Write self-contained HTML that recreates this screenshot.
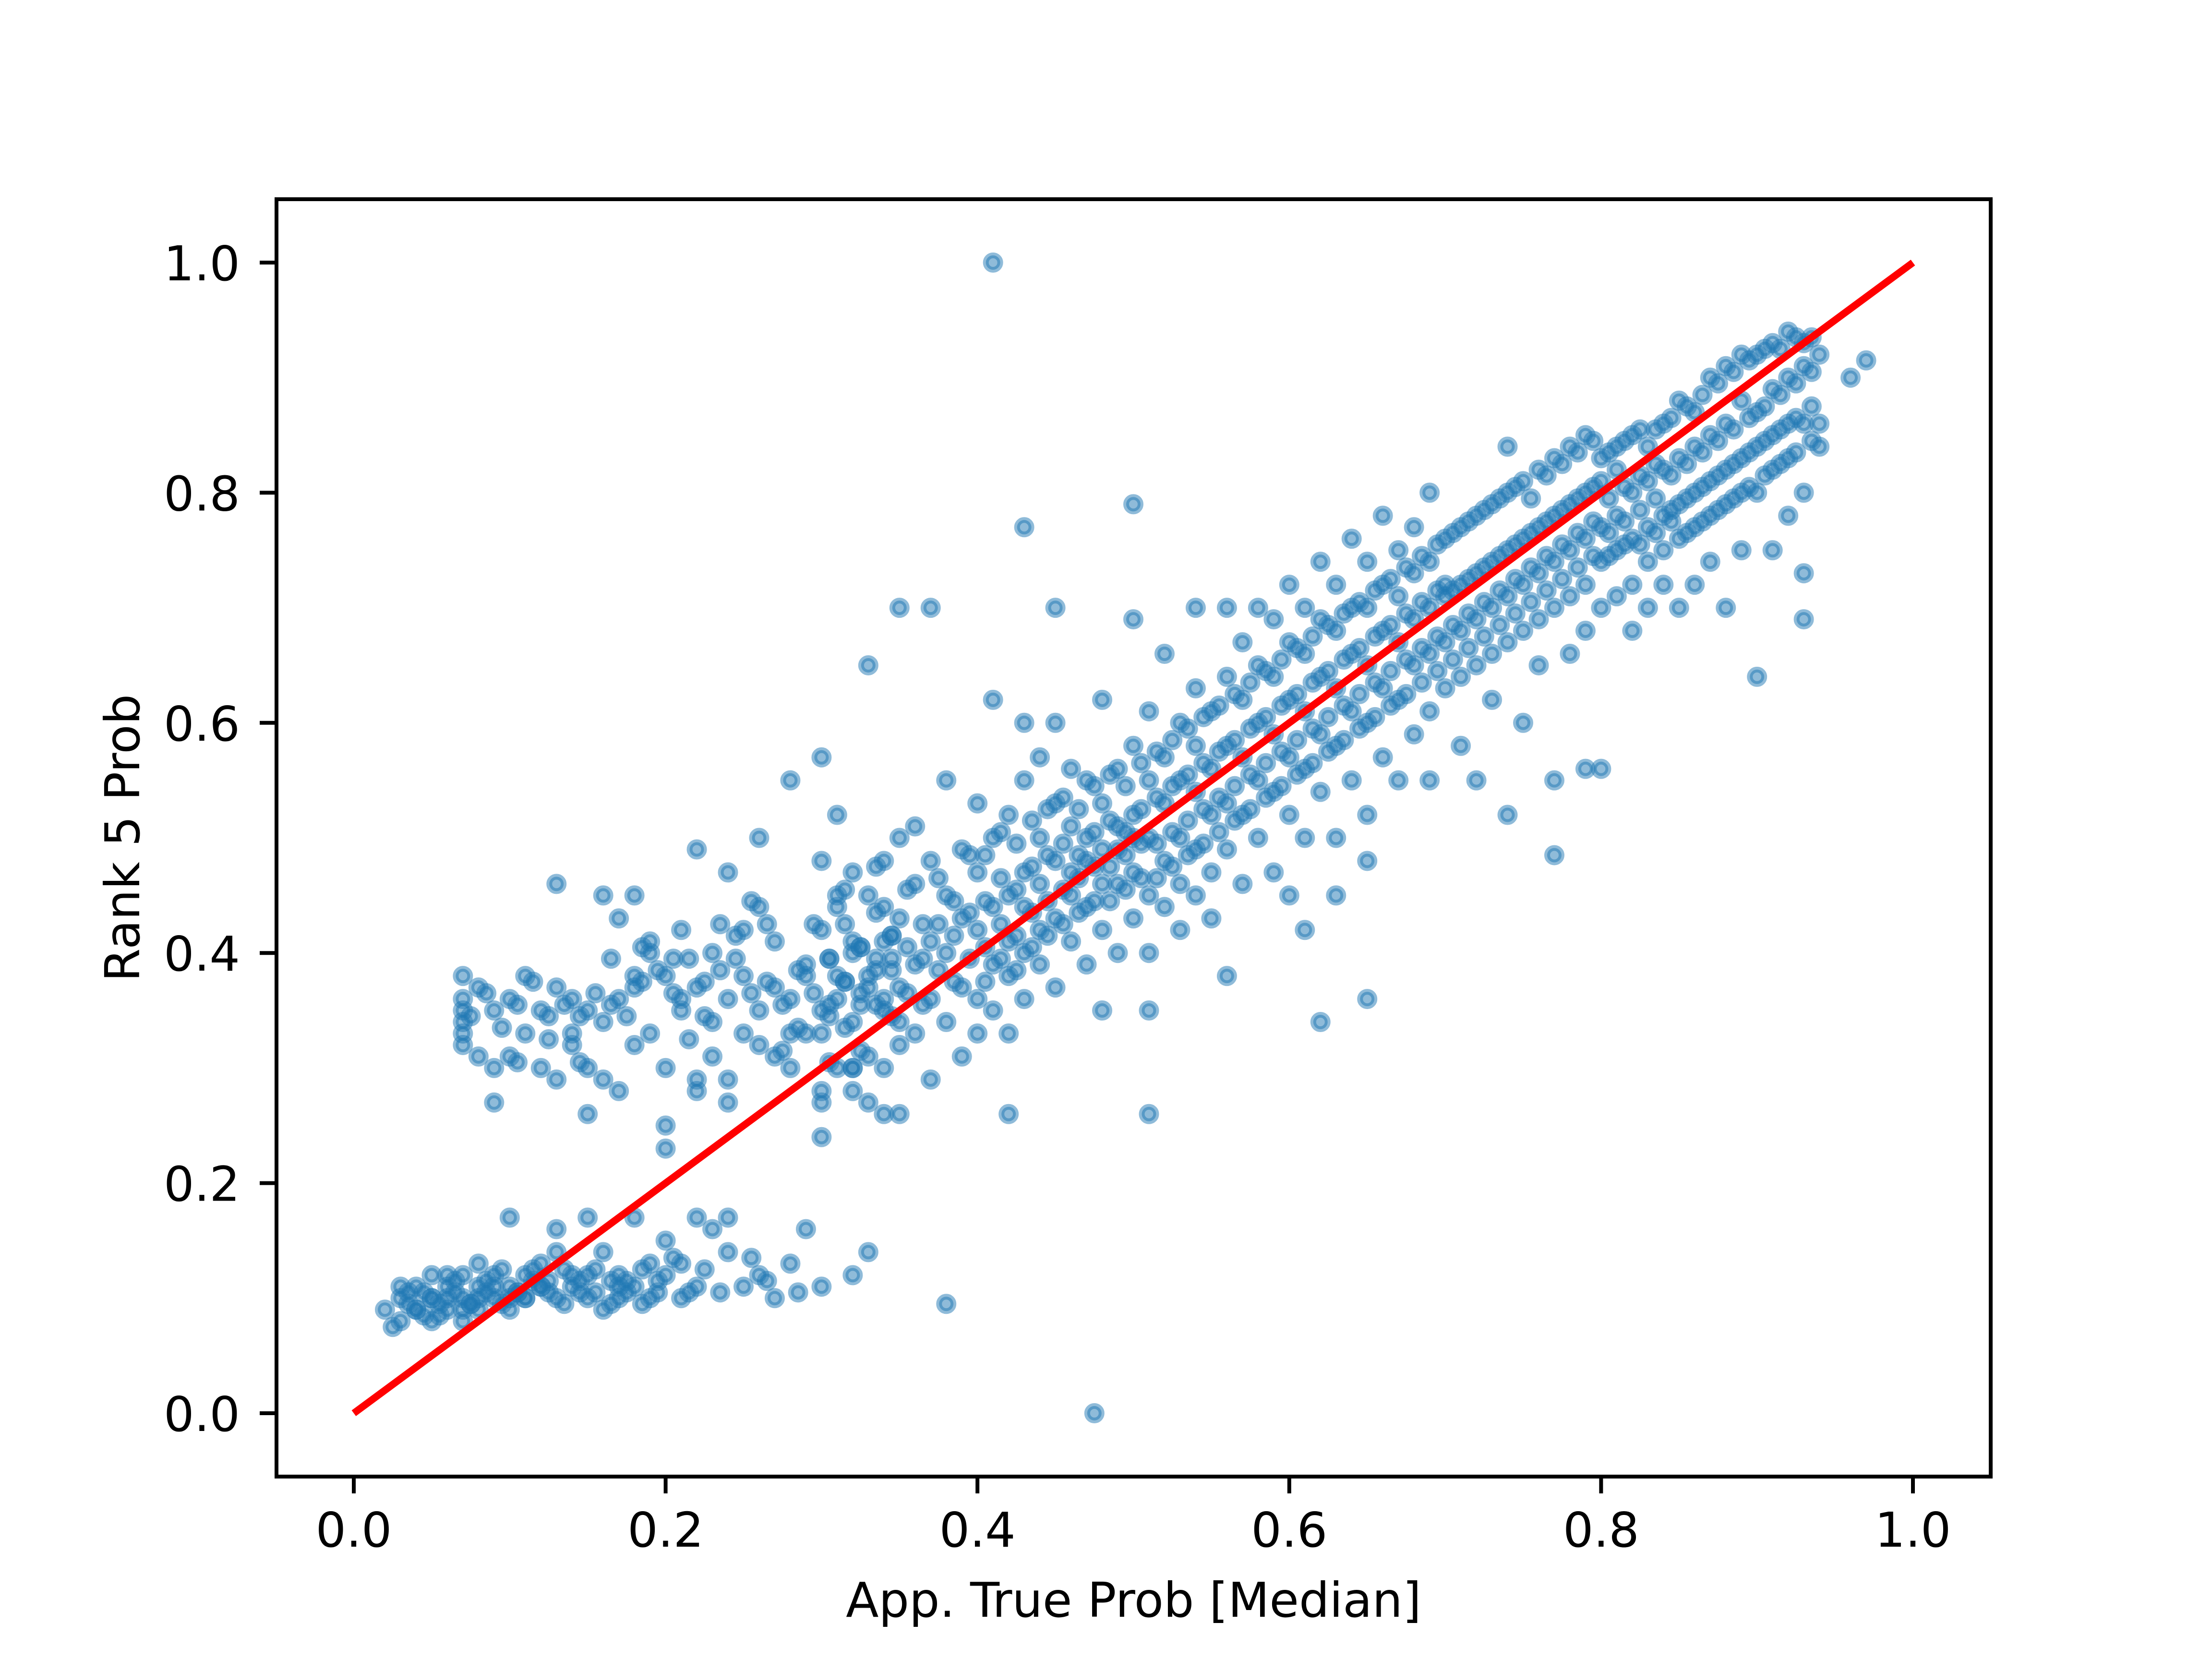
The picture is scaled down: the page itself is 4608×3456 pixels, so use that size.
<!DOCTYPE html>
<html><head><meta charset="utf-8"><style>
html,body{margin:0;padding:0;background:#fff;}
svg{display:block;font-family:"DejaVu Sans","Liberation Sans",sans-serif;}
</style></head><body>
<svg id="chart" width="4608" height="3456" viewBox="0 0 4608 3456" xmlns="http://www.w3.org/2000/svg">
<rect width="4608" height="3456" fill="#fff"/>
<g id="points"></g>
<g id="line"></g>
<g id="axes"></g>
</svg>
<script>
const xTicks = [0.0, 0.2, 0.4, 0.6, 0.8, 1.0];
const yTicks = [0.0, 0.2, 0.4, 0.6, 0.8, 1.0];
const tickLabels = ["0.0", "0.2", "0.4", "0.6", "0.8", "1.0"];
const lowerX = [0.02,0.03,0.03,0.04,0.04,0.05,0.05,0.05,0.06,0.06,0.06,0.07,0.07,0.07,0.08,0.08,0.08,0.09,0.09,0.1,0.1,0.1,0.11,0.11,0.12,0.12,0.13,0.13,0.14,0.14,0.15,0.15,0.16,0.16,0.17,0.17,0.18,0.18,0.19,0.19,0.2,0.2,0.21,0.22,0.22,0.23,0.24,0.25,0.26,0.27,0.28,0.29,0.3,0.32,0.33,0.21,0.24,0.13,0.11,0.1,0.04,0.03,0.05,0.06,0.08,0.09,0.07,0.12,0.15,0.17];
const lowerY = [0.09,0.1,0.08,0.11,0.09,0.1,0.08,0.12,0.11,0.09,0.1,0.12,0.08,0.1,0.11,0.09,0.13,0.1,0.12,0.11,0.1,0.17,0.12,0.1,0.11,0.13,0.1,0.16,0.12,0.11,0.1,0.17,0.09,0.14,0.12,0.1,0.11,0.17,0.1,0.13,0.12,0.15,0.13,0.11,0.17,0.16,0.14,0.11,0.12,0.1,0.13,0.16,0.11,0.12,0.14,0.1,0.17,0.14,0.1,0.09,0.09,0.11,0.1,0.12,0.1,0.11,0.09,0.11,0.12,0.11];
const lowerX2 = [0.025,0.035,0.045,0.055,0.065,0.075,0.085,0.095,0.105,0.115,0.125,0.135,0.145,0.155,0.165,0.175,0.185,0.195,0.205,0.215,0.035,0.045,0.055,0.065,0.075,0.085,0.095,0.105,0.115,0.125,0.135,0.145,0.155,0.165,0.175,0.185,0.195,0.225,0.235,0.255,0.265,0.285];
const lowerY2 = [0.075,0.095,0.105,0.085,0.115,0.095,0.105,0.125,0.105,0.115,0.105,0.125,0.115,0.105,0.095,0.115,0.125,0.105,0.135,0.105,0.105,0.085,0.095,0.105,0.095,0.115,0.095,0.105,0.125,0.115,0.095,0.105,0.125,0.115,0.105,0.095,0.115,0.125,0.105,0.135,0.115,0.105];
const leftX = [0.07,0.07,0.07,0.07,0.07,0.07,0.08,0.08,0.09,0.09,0.1,0.1,0.11,0.11,0.12,0.12,0.13,0.13,0.14,0.14,0.15,0.15,0.16,0.16,0.17,0.17,0.18,0.18,0.19,0.19,0.2,0.2,0.21,0.21,0.22,0.22,0.23,0.23,0.24,0.24,0.25,0.25,0.26,0.26,0.27,0.27,0.28,0.28,0.29,0.29,0.3,0.3,0.31,0.31,0.32,0.32,0.33,0.33,0.34,0.34,0.35,0.35,0.14,0.16,0.18,0.2,0.22,0.24,0.26,0.28,0.3,0.19,0.21,0.23,0.25,0.27,0.29,0.13,0.17,0.09,0.15,0.24,0.28,0.3,0.22,0.26,0.2,0.18,0.32,0.34];
const leftY = [0.38,0.36,0.34,0.33,0.32,0.35,0.37,0.31,0.35,0.27,0.36,0.31,0.38,0.33,0.35,0.3,0.37,0.46,0.33,0.36,0.35,0.3,0.45,0.34,0.36,0.28,0.37,0.45,0.41,0.33,0.38,0.3,0.42,0.35,0.37,0.49,0.31,0.4,0.36,0.47,0.38,0.33,0.5,0.35,0.37,0.41,0.36,0.55,0.39,0.33,0.35,0.57,0.38,0.45,0.41,0.3,0.37,0.65,0.36,0.44,0.34,0.5,0.32,0.29,0.32,0.25,0.29,0.27,0.32,0.3,0.28,0.4,0.36,0.34,0.42,0.31,0.38,0.29,0.43,0.3,0.26,0.29,0.33,0.24,0.28,0.44,0.23,0.38,0.3,0.26];
const leftX2 = [0.075,0.085,0.095,0.105,0.115,0.125,0.135,0.145,0.155,0.165,0.175,0.185,0.195,0.205,0.215,0.225,0.235,0.245,0.255,0.265,0.275,0.285,0.295,0.305,0.315,0.325,0.335,0.345,0.185,0.205,0.225,0.245,0.265,0.285,0.305,0.325,0.345,0.215,0.235,0.255,0.275,0.295,0.315,0.335,0.105,0.125,0.145,0.165];
const leftY2 = [0.345,0.365,0.335,0.355,0.375,0.325,0.355,0.345,0.365,0.355,0.345,0.375,0.385,0.365,0.395,0.375,0.385,0.395,0.365,0.375,0.355,0.385,0.365,0.395,0.375,0.405,0.385,0.415,0.405,0.395,0.345,0.415,0.425,0.335,0.345,0.355,0.395,0.325,0.425,0.445,0.315,0.425,0.455,0.475,0.305,0.345,0.305,0.395];
const bandX = [0.30,0.31,0.32,0.33,0.34,0.35,0.36,0.37,0.38,0.39,0.40,0.41,0.42,0.43,0.44,0.45,0.46,0.47,0.48,0.49,0.50,0.51,0.52,0.53,0.54,0.55,0.56,0.57,0.58,0.59,0.60,0.61,0.62,0.63,0.64,0.65,0.66,0.67,0.68,0.69,0.70,0.71,0.72,0.73,0.74,0.75,0.76,0.77,0.78,0.79,0.80,0.81,0.82,0.83,0.84,0.85,0.86,0.87,0.88,0.89,0.90,0.91,0.92,0.93,0.94];
const bandY = [
[.33,.27,.42,.48],[.36,.30,.44,.52],[.34,.40,.28,.47],[.38,.31,.45,.27],[.35,.41,.30,.48],
[.37,.43,.32,.26],[.39,.46,.33,.51],[.41,.36,.29,.48],[.40,.45,.34,.55],[.43,.37,.49,.31],
[.42,.47,.36,.53,.33],[.44,.39,.50,.35,.62],[.45,.38,.52,.41,.33],[.47,.40,.55,.36,.44],[.46,.50,.39,.57,.42],
[.48,.43,.53,.37,.60],[.47,.51,.41,.45,.56],[.50,.44,.55,.39,.48],[.49,.53,.42,.46,.62,.35],[.51,.46,.56,.40,.49],
[.52,.47,.58,.43,.50,.69],[.50,.55,.45,.61,.40,.35],[.53,.48,.57,.44,.66],[.55,.50,.60,.46,.42],[.54,.58,.49,.63,.45,.70],
[.56,.52,.61,.47,.43],[.58,.53,.64,.49,.70,.38],[.57,.62,.52,.67,.46],[.60,.55,.65,.50,.70],[.59,.64,.54,.69,.47],
[.62,.57,.67,.52,.72,.45],[.61,.66,.56,.70,.50,.42],[.64,.59,.69,.54,.74],[.63,.68,.58,.72,.50,.45],[.66,.61,.70,.55,.76],
[.65,.70,.60,.74,.52,.48],[.68,.63,.72,.57,.78],[.67,.71,.62,.75,.55],[.69,.65,.73,.59,.77],[.70,.66,.74,.61,.80,.55],
[.71,.67,.76,.63,.72],[.72,.68,.77,.64,.58],[.73,.69,.78,.65,.55],[.74,.70,.79,.66,.62],[.75,.71,.80,.67,.84,.52],
[.76,.72,.81,.68,.60],[.77,.73,.82,.69,.65],[.78,.74,.83,.70,.55],[.79,.75,.84,.71,.66],[.80,.76,.85,.72,.68],
[.81,.77,.74,.83,.70,.56],[.82,.78,.75,.84,.71],[.80,.76,.85,.72,.68],[.81,.77,.84,.74,.70],[.82,.78,.86,.75,.72],
[.83,.79,.88,.76,.70],[.84,.80,.87,.77,.72],[.85,.81,.90,.78,.74],[.86,.82,.91,.79,.70],[.88,.83,.92,.80,.75],
[.87,.84,.92,.80,.64],[.89,.85,.93,.82,.75],[.90,.86,.94,.83,.78],[.91,.86,.93,.80,.69,.73],[.92,.86,.84]
];
const bandX2 = [0.305,0.315,0.325,0.335,0.345,0.355,0.365,0.375,0.385,0.395,0.405,0.415,0.425,0.435,0.445,0.455,0.465,0.475,0.485,0.495,0.505,0.515,0.525,0.535,0.545,0.555,0.565,0.575,0.585,0.595,0.605,0.615,0.625,0.635,0.645,0.655,0.665,0.675,0.685,0.695,0.705,0.715,0.725,0.735,0.745,0.755,0.765,0.775,0.785,0.795,0.805,0.815,0.825,0.835,0.845,0.855,0.865,0.875,0.885,0.895,0.905,0.915,0.925,0.935];
const bandY2 = [
[.355,.395,.305],[.375,.335,.425],[.365,.405,.315],[.395,.355,.435],[.385,.415,.345],
[.405,.365,.455],[.395,.425,.355],[.425,.385,.465],[.415,.445,.375],[.435,.395,.485],
[.445,.405,.485,.375],[.465,.425,.505,.395],[.455,.415,.495,.385],[.475,.435,.515,.405],[.485,.445,.525,.415],
[.495,.455,.535,.425],[.485,.465,.525,.435],[.505,.475,.545,.445],[.515,.475,.555,.445],[.505,.485,.545,.455],
[.525,.495,.565,.465],[.535,.495,.575,.465],[.545,.505,.585,.475],[.555,.515,.595,.485],[.565,.525,.605,.495],
[.575,.535,.615,.505],[.585,.545,.625,.515],[.595,.555,.635,.525],[.605,.565,.645,.535],[.615,.575,.655,.545],
[.625,.585,.665,.555],[.635,.595,.675,.565],[.645,.605,.685,.575],[.655,.615,.695,.585],[.665,.625,.705,.595],
[.675,.635,.715,.605],[.685,.645,.725,.615],[.695,.655,.735,.625],[.705,.665,.745,.635],[.715,.675,.755,.645],
[.715,.685,.765,.655],[.725,.695,.775,.665],[.735,.705,.785,.675],[.745,.715,.795,.685],[.755,.725,.805,.695],
[.765,.735,.795,.705],[.775,.745,.815,.715],[.785,.755,.825,.725],[.795,.765,.835,.735],[.805,.775,.845,.745],
[.795,.765,.835,.745],[.805,.775,.845,.755],[.815,.785,.855,.755],[.825,.795,.855,.765],[.815,.785,.865,.775],
[.825,.795,.875,.765],[.835,.805,.885,.775],[.845,.815,.895,.785],[.855,.825,.905,.795],[.865,.835,.915,.805],
[.875,.845,.925,.815],[.885,.855,.925,.825],[.895,.865,.935,.835],[.905,.875,.935,.845]
];
const outlierX = [0.41,0.475,0.38,0.43,0.5,0.96,0.97,0.42,0.45,0.35,0.37,0.77,0.79,0.62,0.65,0.51,0.43];
const outlierY = [1.0,0.0,0.095,0.77,0.79,0.90,0.915,0.26,0.7,0.7,0.7,0.485,0.56,0.34,0.36,0.26,0.6];

const NS = "http://www.w3.org/2000/svg";
const X0 = 737, XU = 3248, Y0 = 2944, YU = 2397;
const AX_L = 576, AX_R = 4147, AX_T = 415, AX_B = 3076;
function sx(v){ return X0 + v * XU; }
function sy(v){ return Y0 - v * YU; }
function mk(tag, attrs, parent){
  const el = document.createElementNS(NS, tag);
  for (const k in attrs) el.setAttribute(k, attrs[k]);
  parent.appendChild(el);
  return el;
}
const gp = document.getElementById('points');
function dot(x, y){
  const c = mk('circle', {cx: sx(x), cy: sy(y), r: 15, fill: '#1f77b4', 'fill-opacity': 0.5, stroke: '#1f77b4', 'stroke-opacity': 0.5, 'stroke-width': 12}, gp);
  
  
}
function pairs(xs, ys){ for (let i = 0; i < Math.min(xs.length, ys.length); i++) dot(xs[i], ys[i]); }
pairs(lowerX, lowerY);
pairs(lowerX2, lowerY2);
pairs(leftX, leftY);
pairs(leftX2, leftY2);
for (let i = 0; i < bandX.length; i++) for (const y of bandY[i]) dot(bandX[i], y);
for (let i = 0; i < bandX2.length; i++) for (const y of bandY2[i]) dot(bandX2[i], y);
pairs(outlierX, outlierY);

const gl = document.getElementById('line');
const ln = mk('line', {x1: sx(0), y1: sy(0), x2: sx(1), y2: sy(1), stroke: '#ff0000', 'stroke-width': 15}, gl);



const ga = document.getElementById('axes');
const fr = mk('rect', {x: AX_L, y: AX_T, width: AX_R - AX_L, height: AX_B - AX_T, fill: 'none', stroke: '#000', 'stroke-width': 8}, ga);


xTicks.forEach((v, i) => {
  const t = mk('line', {x1: sx(v), y1: AX_B, x2: sx(v), y2: AX_B + 35, stroke: '#000', 'stroke-width': 8}, ga);
  
  
  const tx = mk('text', {x: sx(v), y: 3222, 'font-size': 100, 'text-anchor': 'middle', fill: '#000'}, ga);
  tx.textContent = tickLabels[i];
  
  
});
yTicks.forEach((v, i) => {
  const t = mk('line', {x1: AX_L - 35, y1: sy(v), x2: AX_L, y2: sy(v), stroke: '#000', 'stroke-width': 8}, ga);
  
  
  const tx = mk('text', {x: 500, y: sy(v) + 37, 'font-size': 100, 'text-anchor': 'end', fill: '#000'}, ga);
  tx.textContent = tickLabels[i];
  
  
});
const xl = mk('text', {x: (AX_L + AX_R) / 2, y: 3368, 'font-size': 100, 'text-anchor': 'middle', fill: '#000'}, ga);
xl.textContent = 'App. True Prob [Median]';


const yl = mk('text', {x: 0, y: 0, 'font-size': 100, 'text-anchor': 'middle', fill: '#000', transform: 'translate(290,' + ((AX_T + AX_B) / 2) + ') rotate(-90)'}, ga);
yl.textContent = 'Rank 5 Prob';


</script>
</body></html>
